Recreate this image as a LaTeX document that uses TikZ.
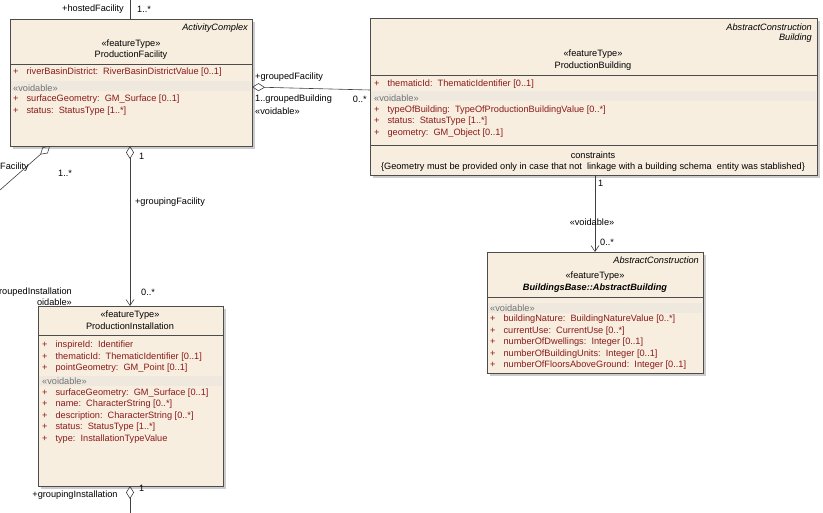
\documentclass[tikz,border=0pt]{standalone}
\usepackage{fontspec}
\setmainfont{Liberation Sans}
\usetikzlibrary{arrows.meta}
\definecolor{boxfill}{HTML}{F7EEDF}
\definecolor{attr}{HTML}{8B1A1A}
\definecolor{band}{HTML}{EEE8DE}
\begin{document}
\begin{tikzpicture}[x=1pt,y=-1pt,font=\fontsize{9.2}{10}\selectfont,
  cls/.style={draw=black!70,fill=boxfill,line width=0.7pt},
  sep/.style={draw=black!70,line width=0.6pt},
  atl/.style={anchor=west,text=attr,inner sep=0pt},
  vd/.style={anchor=west,text=black!55,inner sep=0pt},
  lb/.style={inner sep=0pt},
  conn/.style={draw=black!75,line width=0.6pt},
  agg/.style={conn,{Diamond[open,length=13pt,width=8pt]}-},
  nav/.style={conn,-{Straight Barb[length=6pt,width=8pt]}}]
\useasboundingbox (0,0) rectangle (823,513);
% shadows
\fill[black!20] (13,22) rectangle (255,149);
\fill[black!20] (373,21) rectangle (820,178);
\fill[black!20] (490,255) rectangle (706,376);
\fill[black!20] (41,309) rectangle (226,489);
% ProductionFacility
\node[cls,minimum width=242pt,minimum height=127pt,anchor=north west,inner sep=0pt] (pf) at (10,19) {};
\draw[sep] (10,64) -- (252,64);
\fill[band] (11,81) rectangle (251,91);
\node[lb,anchor=east,font=\fontsize{9.2}{10}\itshape] (pfa) at (248,28) {ActivityComplex};
\node[lb] (pfs) at (131,44) {«featureType»};
\node[lb] (pfn) at (131,55) {ProductionFacility};
\node[atl] (pf1) at (13,72) {+\hspace{8pt}riverBasinDistrict:\ \ RiverBasinDistrictValue [0..1]};
\node[vd] (pf2) at (13,88) {«voidable»};
\node[atl] (pf3) at (13,99) {+\hspace{8pt}surfaceGeometry:\ \ GM\_Surface [0..1]};
\node[atl] (pf4) at (13,111) {+\hspace{8pt}status:\ \ StatusType [1..*]};
% ProductionBuilding
\node[cls,minimum width=447pt,minimum height=157pt,anchor=north west,inner sep=0pt] (pb) at (370,18) {};
\draw[sep] (370,75) -- (817,75);
\draw[sep] (370,145) -- (817,145);
\fill[band] (371,91) rectangle (816,101);
\node[lb,anchor=east,font=\fontsize{9.2}{10}\itshape] (pba) at (812,27) {AbstractConstruction};
\node[lb,anchor=east,font=\fontsize{9.2}{10}\itshape] (pbb) at (812,38) {Building};
\node[lb] (pbs) at (593,54) {«featureType»};
\node[lb] (pbn) at (593,66) {ProductionBuilding};
\node[atl] (pb1) at (374,84) {+\hspace{8pt}thematicId:\ \ ThematicIdentifier [0..1]};
\node[vd] (pb2) at (374,98) {«voidable»};
\node[atl] (pb3) at (374,110) {+\hspace{8pt}typeOfBuilding:\ \ TypeOfProductionBuildingValue [0..*]};
\node[atl] (pb4) at (374,121) {+\hspace{8pt}status:\ \ StatusType [1..*]};
\node[atl] (pb5) at (374,133) {+\hspace{8pt}geometry:\ \ GM\_Object [0..1]};
\node[lb] (pbc) at (593,155) {constraints};
\node[lb] (pbd) at (593,167) {\{Geometry must be provided only in case that not\ \ linkage with a building schema\ \ entity was stablished\}};
% BuildingsBase
\node[cls,minimum width=216pt,minimum height=121pt,anchor=north west,inner sep=0pt] (bb) at (487,252) {};
\draw[sep] (487,297) -- (703,297);
\fill[band] (488,303) rectangle (702,313);
\node[lb,anchor=east,font=\fontsize{9.2}{10}\itshape] (bba) at (699,260) {AbstractConstruction};
\node[lb] (bbs) at (595,276) {«featureType»};
\node[lb,font=\fontsize{9.2}{10}\itshape\bfseries] (bbn) at (595,288) {BuildingsBase::AbstractBuilding};
\node[vd] (bb0) at (490,308) {«voidable»};
\node[atl] (bb1) at (490,319) {+\hspace{8pt}buildingNature:\ \ BuildingNatureValue [0..*]};
\node[atl] (bb2) at (490,331) {+\hspace{8pt}currentUse:\ \ CurrentUse [0..*]};
\node[atl] (bb3) at (490,342) {+\hspace{8pt}numberOfDwellings:\ \ Integer [0..1]};
\node[atl] (bb4) at (490,354) {+\hspace{8pt}numberOfBuildingUnits:\ \ Integer [0..1]};
\node[atl] (bb5) at (490,365) {+\hspace{8pt}numberOfFloorsAboveGround:\ \ Integer [0..1]};
% ProductionInstallation
\node[cls,minimum width=185pt,minimum height=180pt,anchor=north west,inner sep=0pt] (pi) at (38,306) {};
\draw[sep] (38,335) -- (223,335);
\fill[band] (39,376) rectangle (222,386);
\node[lb] (pis) at (130,315) {«featureType»};
\node[lb] (pin) at (130,326) {ProductionInstallation};
\node[atl] (pi1) at (42,345) {+\hspace{8pt}inspireId:\ \ Identifier};
\node[atl] (pi2) at (42,357) {+\hspace{8pt}thematicId:\ \ ThematicIdentifier [0..1]};
\node[atl] (pi3) at (42,368) {+\hspace{8pt}pointGeometry:\ \ GM\_Point [0..1]};
\node[vd] (pi4) at (42,381) {«voidable»};
\node[atl] (pi5) at (42,393) {+\hspace{8pt}surfaceGeometry:\ \ GM\_Surface [0..1]};
\node[atl] (pi6) at (42,404) {+\hspace{8pt}name:\ \ CharacterString [0..*]};
\node[atl] (pi7) at (42,416) {+\hspace{8pt}description:\ \ CharacterString [0..*]};
\node[atl] (pi8) at (42,427) {+\hspace{8pt}status:\ \ StatusType [1..*]};
\node[atl] (pi9) at (42,439) {+\hspace{8pt}type:\ \ InstallationTypeValue};
% connectors
\coordinate (top) at (130,0);
\draw[conn] (top) -- (pf.north -| top);
\node[lb,anchor=east] (l1) at (124,9) {+hostedFacility};
\node[lb,anchor=west] (l2) at (137,9) {1..*};
\coordinate (pfr) at (252,87);
\coordinate (pbl) at (370,90);
\draw[agg] (pfr) -- (pbl);
\node[lb,anchor=west] (l3) at (255,77) {+groupedFacility};
\node[lb,anchor=west] (l4) at (255,99) {1..groupedBuilding};
\node[lb,anchor=west] (l5) at (255,111) {«voidable»};
\node[lb,anchor=east] (l6) at (367,99) {0..*};
\coordinate (pfd) at (50,146);
\coordinate (off) at (0,190);
\draw[agg] (pfd) -- (off);
\node[lb,anchor=west] (l7) at (0,167) {Facility};
\node[lb,anchor=west] (l8) at (58,173) {1..*};
\coordinate (pfb) at (130,146);
\coordinate (pit) at (130,306);
\draw[conn,{Diamond[open,length=13pt,width=8pt]}-{Straight Barb[length=6pt,width=8pt]}] (pfb) -- (pit);
\node[lb,anchor=west] (l9) at (139,156) {1};
\node[lb] (l10) at (170,202) {+groupingFacility};
\node[lb,anchor=west] (l11) at (141,292) {0..*};
\node[lb,anchor=east] (l12) at (72,292) {roupedInstallation};
\node[lb,anchor=east] (l13) at (72,302) {oidable»};
\coordinate (pbd2) at (595,175);
\coordinate (bbt) at (595,252);
\draw[nav] (pbd2) -- (bbt);
\node[lb,anchor=west] (l14) at (598,183) {1};
\node[lb] (l15) at (592,222) {«voidable»};
\node[lb,anchor=west] (l16) at (600,242) {0..*};
\coordinate (pib) at (130,486);
\coordinate (bot) at (130,513);
\draw[agg] (pib) -- (bot);
\node[lb,anchor=west] (l17) at (139,488) {1};
\node[lb] (l18) at (75,495) {+groupingInstallation};
\end{tikzpicture}
\end{document}
